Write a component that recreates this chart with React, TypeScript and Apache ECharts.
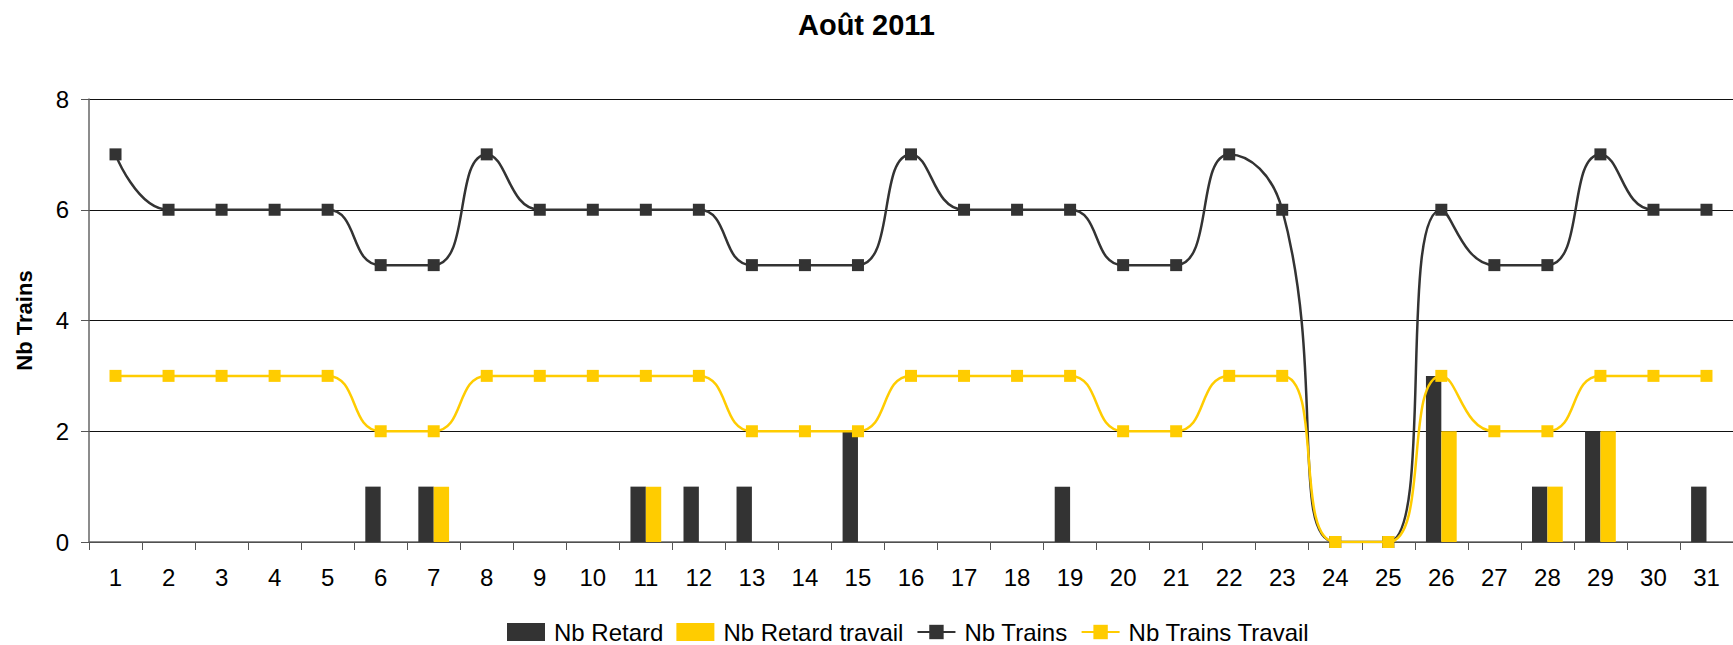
import React, { useEffect, useRef } from "react";
import * as echarts from "echarts";

const days = ["1","2","3","4","5","6","7","8","9","10","11","12","13","14","15","16","17","18","19","20","21","22","23","24","25","26","27","28","29","30","31"];
const nbRetard = [0,0,0,0,0,1,1,0,0,0,1,1,1,0,2,0,0,0,1,0,0,0,0,0,0,3,0,1,2,0,1];
const nbRetardTravail = [0,0,0,0,0,0,1,0,0,0,1,0,0,0,0,0,0,0,0,0,0,0,0,0,0,2,0,1,2,0,0];
const nbTrains = [7,6,6,6,6,5,5,7,6,6,6,6,5,5,5,7,6,6,6,5,5,7,6,0,0,6,5,5,7,6,6];
const nbTrainsTravail = [3,3,3,3,3,2,2,3,3,3,3,3,2,2,2,3,3,3,3,2,2,3,3,0,0,3,2,2,3,3,3];

const DARK = "#333333";
const YELLOW = "#FFCC00";
const FONT = "'Liberation Sans', Arial, sans-serif";

export default function App() {
  const ref = useRef<HTMLDivElement>(null);
  useEffect(() => {
    if (!ref.current) return;
    const chart = echarts.init(ref.current, undefined, { renderer: "svg" });
    chart.setOption({
      animation: false,
      backgroundColor: "#ffffff",
      textStyle: { fontFamily: FONT },
      title: {
        text: "Août 2011",
        left: "center",
        top: 5,
        textStyle: { fontFamily: FONT, fontSize: 29, fontWeight: "bold", color: "#000" },
      },
      legend: {
        left: 507,
        top: 620,
        itemWidth: 38,
        itemHeight: 18,
        itemGap: 13,
        padding: 0,
        textStyle: { fontFamily: FONT, fontSize: 24, color: "#000", padding: [0, 0, 0, 4] },
        data: [
          { name: "Nb Retard", icon: "rect" },
          { name: "Nb Retard travail", icon: "rect" },
          { name: "Nb Trains" },
          { name: "Nb Trains Travail" },
        ],
      },
      grid: { left: 89, right: 0, top: 99, bottom: 103, containLabel: false },
      xAxis: {
        type: "category",
        data: days,
        boundaryGap: true,
        axisLine: { lineStyle: { color: "#666", width: 1.5 } },
        axisTick: { show: true, interval: 0, length: 8, lineStyle: { color: "#555" } },
        axisLabel: { interval: 0, fontSize: 24, color: "#000", margin: 23, fontFamily: FONT },
      },
      yAxis: {
        type: "value",
        min: 0,
        max: 8,
        interval: 2,
        name: "Nb Trains",
        nameLocation: "middle",
        nameRotate: 90,
        nameGap: 54,
        nameTextStyle: { fontFamily: FONT, fontSize: 22, fontWeight: "bold", color: "#000" },
        axisLine: { show: true, lineStyle: { color: "#666", width: 1.5 } },
        axisTick: { show: true, length: 8, lineStyle: { color: "#555" } },
        axisLabel: { fontSize: 24, color: "#000", margin: 20, fontFamily: FONT },
        splitLine: { show: true, lineStyle: { color: "#111", width: 1.2 } },
      },
      series: [
        {
          name: "Nb Retard",
          type: "bar",
          data: nbRetard,
          barGap: "0%",
          barCategoryGap: "42%",
          itemStyle: { color: DARK },
        },
        {
          name: "Nb Retard travail",
          type: "bar",
          data: nbRetardTravail,
          barGap: "0%",
          barCategoryGap: "42%",
          itemStyle: { color: YELLOW },
        },
        {
          name: "Nb Trains",
          type: "line",
          data: nbTrains,
          smooth: 0.5,
          symbol: "rect",
          symbolSize: 12,
          lineStyle: { color: DARK, width: 2.5 },
          itemStyle: { color: DARK },
          z: 3,
        },
        {
          name: "Nb Trains Travail",
          type: "line",
          data: nbTrainsTravail,
          smooth: 0.5,
          symbol: "rect",
          symbolSize: 12,
          lineStyle: { color: YELLOW, width: 2.5 },
          itemStyle: { color: YELLOW },
          z: 4,
        },
      ],
    });
    return () => chart.dispose();
  }, []);
  return (
    <div
      ref={ref}
      style={{ position: "fixed", left: 0, top: 0, width: 1733, height: 645 }}
    />
  );
}
